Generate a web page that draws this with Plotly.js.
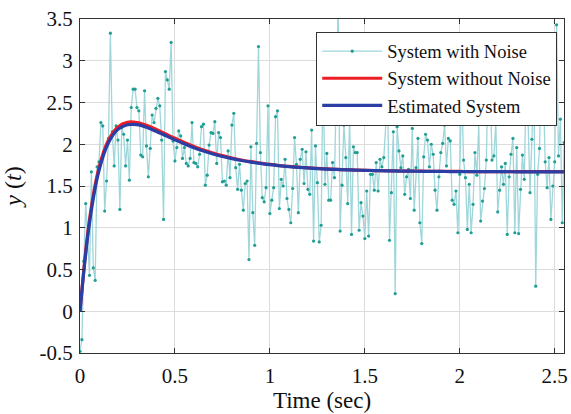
<!DOCTYPE html>
<html><head><meta charset="utf-8">
<script src="https://cdn.plot.ly/plotly-3.0.1.min.js"></script>
<style>html,body{margin:0;padding:0;background:#fff}#chart{width:571px;height:414px}</style>
</head><body><div id="chart"></div>
<script>
// ---- data ----
const noiseStep = 0.01; // sample spacing of the noisy measurement (sec)
const noisyOutput = [
 -0.48,-0.34,0.60,1.29,0.90,0.43,1.67,0.52,0.37,1.73,
 1.79,2.26,2.22,1.20,1.56,2.07,3.33,2.15,1.74,2.22,
 2.05,1.22,2.20,2.12,1.74,2.05,1.57,2.44,2.66,2.66,
 2.44,2.40,1.87,1.85,2.64,1.98,1.61,1.95,2.35,2.26,
 2.43,2.55,2.46,2.05,1.10,2.87,2.77,2.66,3.22,2.04,
 1.80,1.96,2.16,2.10,1.83,1.96,1.77,1.74,1.83,2.26,
 1.78,1.77,1.73,1.88,2.21,2.24,1.51,1.63,1.99,2.14,
 2.13,2.27,1.77,2.14,2.08,1.55,1.56,1.51,1.92,1.60,
 2.23,2.37,1.72,1.46,1.76,1.45,1.21,1.53,1.56,0.62,
 1.97,1.18,0.79,2.01,3.17,1.90,1.36,1.31,1.48,2.46,
 1.17,1.33,1.48,2.33,2.40,1.23,1.58,1.50,1.82,1.35,
 1.22,1.06,1.47,2.08,1.76,1.18,1.82,1.94,1.53,1.91,
 1.46,1.40,2.17,0.84,1.98,1.54,0.83,1.03,2.90,1.52,
 1.89,1.33,1.33,1.78,1.60,2.90,3.70,0.96,1.51,2.23,
 1.84,1.29,2.31,0.92,1.97,1.90,1.90,0.97,1.30,1.14,
 0.87,1.44,0.90,1.64,1.64,1.45,1.78,1.44,1.82,1.73,
 1.84,2.24,2.60,0.85,1.42,2.15,0.21,2.21,1.92,1.72,
 1.86,1.40,1.61,1.70,1.35,2.19,1.21,1.72,2.07,1.06,
 0.81,1.85,2.12,2.05,1.73,2.00,1.88,1.45,1.21,1.61,
 1.90,2.01,2.23,1.74,2.07,2.04,1.33,1.28,1.44,0.94,
 1.64,2.70,1.81,1.60,0.98,1.52,0.94,1.28,1.90,1.63,
 2.24,1.08,1.32,1.47,1.81,2.90,2.75,1.81,1.86,2.26,
 1.19,1.45,1.73,1.52,1.77,0.92,1.61,1.88,2.07,0.94,
 1.96,0.93,1.46,1.87,1.58,2.80,2.26,1.42,2.06,2.80,
 0.30,1.64,1.95,2.85,2.70,1.79,1.48,1.84,1.10,1.50,
 1.79,3.43,1.86,2.30,1.06,2.02
];
const curveTime = [
 0,0.05,0.1,0.15,0.2,0.25,0.3,0.35,0.4,0.45,
 0.5,0.55,0.6,0.65,0.7,0.75,0.8,0.85,0.9,0.95,
 1,1.05,1.1,1.15,1.2,1.25,1.3,1.35,1.4,1.45,
 1.5,1.55,1.6,1.65,1.7,1.75,1.8,1.85,1.9,1.95,
 2,2.05,2.1,2.15,2.2,2.25,2.3,2.35,2.4,2.45,
 2.5,2.55
];
const trueOutput = [
 0.000,1.097,1.719,2.050,2.208,2.263,2.261,2.228,2.179,2.125,
 2.071,2.021,1.974,1.932,1.896,1.864,1.836,1.812,1.791,1.774,
 1.758,1.745,1.734,1.725,1.717,1.710,1.704,1.699,1.695,1.691,
 1.688,1.685,1.683,1.681,1.679,1.678,1.677,1.676,1.675,1.674,
 1.674,1.673,1.673,1.672,1.672,1.672,1.671,1.671,1.671,1.671,
 1.671,1.671
];
const estimatedOutput = [
 0.000,1.060,1.685,2.018,2.178,2.233,2.234,2.203,2.156,2.104,
 2.052,2.004,1.959,1.919,1.884,1.854,1.828,1.805,1.786,1.770,
 1.755,1.743,1.732,1.724,1.716,1.709,1.703,1.698,1.694,1.690,
 1.687,1.684,1.682,1.680,1.678,1.677,1.676,1.675,1.674,1.673,
 1.673,1.672,1.672,1.671,1.671,1.671,1.670,1.670,1.670,1.670,
 1.670,1.670
];
const seriesNames = ['System with Noise','System without Noise','Estimated System'];
const xTickVals = [0,0.5,1,1.5,2,2.5];
const xTickText = ['0','0.5','1','1.5','2','2.5'];
const yTickVals = [-0.5,0,0.5,1,1.5,2,2.5,3,3.5];
const yTickText = ['-0.5','0','0.5','1','1.5','2','2.5','3','3.5'];

// ---- chart ----
const noiseTime = noisyOutput.map((_, i) => Math.round(i * noiseStep * 100) / 100);
const serif = '"Liberation Serif", "DejaVu Serif", serif';

const traces = [
  {x: noiseTime, y: noisyOutput, name: seriesNames[0], type: 'scatter', mode: 'lines+markers',
   line: {color: '#9fd6da', width: 1.3}, marker: {color: '#1f9e93', size: 3.2}},
  {x: curveTime, y: trueOutput, name: seriesNames[1], type: 'scatter', mode: 'lines',
   line: {color: '#ee1c24', width: 3.2, shape: 'spline'}},
  {x: curveTime, y: estimatedOutput, name: seriesNames[2], type: 'scatter', mode: 'lines',
   line: {color: '#2b3ea5', width: 3.2, shape: 'spline'}}
];

const axisCommon = {
  ticks: 'inside', ticklen: 5, tickcolor: '#333', tickwidth: 1,
  showline: true, linecolor: '#333', linewidth: 1, mirror: 'ticks',
  showgrid: true, gridcolor: '#dcdcdc', gridwidth: 1, zeroline: false,
  tickfont: {family: serif, size: 21, color: '#111'}
};

const layout = {
  width: 571, height: 414,
  margin: {l: 80, r: 7, t: 19, b: 61},
  paper_bgcolor: '#fff', plot_bgcolor: '#fff',
  font: {family: serif, color: '#111'},
  showlegend: true,
  legend: {x: 0.986, xanchor: 'right', y: 0.962, yanchor: 'top',
           bgcolor: '#fff', bordercolor: '#333', borderwidth: 1,
           font: {family: serif, size: 18.5, color: '#111'}, itemwidth: 60},
  xaxis: Object.assign({}, axisCommon, {
    range: [0, 2.549], tickvals: xTickVals, ticktext: xTickText, ticklabelstandoff: 4,
    title: {text: 'Time (sec)', font: {family: serif, size: 23, color: '#111'}, standoff: 4}
  }),
  yaxis: Object.assign({}, axisCommon, {
    range: [-0.5, 3.5], tickvals: yTickVals, ticktext: yTickText, ticklabelstandoff: 2,
    title: {text: '<i>y</i> (<i>t</i>)', font: {family: serif, size: 24, color: '#111'}, standoff: 12}
  })
};

Plotly.newPlot('chart', traces, layout, {displayModeBar: false, staticPlot: true});
</script>
</body></html>
